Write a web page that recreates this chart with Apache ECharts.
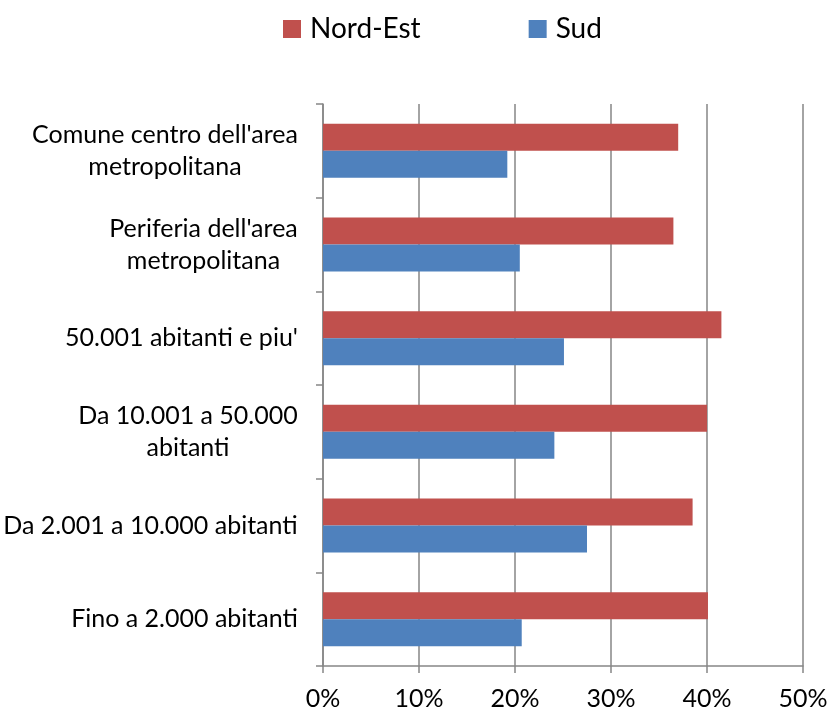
<!DOCTYPE html>
<html>
<head>
<meta charset="utf-8">
<script src="https://cdn.jsdelivr.net/npm/echarts@6/dist/echarts.min.js"></script>
<style>
  html, body { margin: 0; padding: 0; background: #fff; }
  #chart { width: 832px; height: 711px; }
</style>
</head>
<body>
<div id="chart"></div>
<script>
// categories, top to bottom
const categories = [
  "Comune centro dell'area\nmetropolitana",
  "Periferia dell'area\nmetropolitana",
  "50.001 abitanti e piu'",
  "Da 10.001 a 50.000\nabitanti",
  "Da 2.001 a 10.000 abitanti",
  "Fino a 2.000 abitanti"
];
const nordEst = [37.0, 36.5, 41.5, 40.0, 38.5, 40.1];
const sud = [19.2, 20.5, 25.1, 24.1, 27.5, 20.7];
const xTicks = [0, 10, 20, 30, 40, 50];

const FONT = "Lato";
const labelSize = 25;

// measure the widest line of each label so lines can be centred
const ctx = document.createElement("canvas").getContext("2d");
ctx.font = labelSize + "px " + FONT;
const rich = {};
categories.forEach((c, i) => {
  const w = Math.max(...c.split("\n").map(s => ctx.measureText(s).width));
  rich["c" + i] = { width: Math.ceil(w), align: "center", fontSize: labelSize, fontFamily: FONT, lineHeight: 32, color: "#000" };
});

const chart = echarts.init(document.getElementById("chart"));

const option = {
  animation: false,
  color: ["#C0504D", "#4F81BD"],
  legend: {
    left: 278,
    top: 10,
    itemWidth: 18,
    itemHeight: 18,
    itemGap: 108,
    icon: "rect",
    textStyle: { fontSize: 28, fontFamily: FONT, color: "#000", padding: [0, 0, 0, 4] },
    data: ["Nord-Est", "Sud"]
  },
  grid: { left: 323, right: 29, top: 104, bottom: 45 },
  xAxis: {
    type: "value",
    min: 0,
    max: 50,
    interval: 10,
    axisLine: { show: true, lineStyle: { color: "#868686", width: 1.5 } },
    axisTick: { show: true, length: 7, lineStyle: { color: "#868686", width: 1.5 } },
    splitLine: { show: true, lineStyle: { color: "#868686", width: 1.5 } },
    axisLabel: {
      margin: 20,
      fontSize: 25,
      fontFamily: FONT,
      color: "#000",
      formatter: v => (xTicks.includes(v) ? v + "%" : "")
    }
  },
  yAxis: {
    type: "category",
    inverse: true,
    data: categories,
    axisLine: { show: true, lineStyle: { color: "#868686", width: 1.5 } },
    axisTick: { show: true, length: 7, lineStyle: { color: "#868686", width: 1.5 } },
    axisLabel: {
      margin: 25,
      align: "right",
      formatter: (v, i) => v.split("\n").map(s => "{c" + i + "|" + s + "}").join("\n"),
      rich
    }
  },
  series: [
    {
      name: "Nord-Est",
      type: "bar",
      data: nordEst,
      barWidth: 27,
      barGap: "0%"
    },
    {
      name: "Sud",
      type: "bar",
      data: sud,
      barWidth: 27,
      barGap: "0%"
    }
  ]
};

chart.setOption(option);
</script>
</body>
</html>
